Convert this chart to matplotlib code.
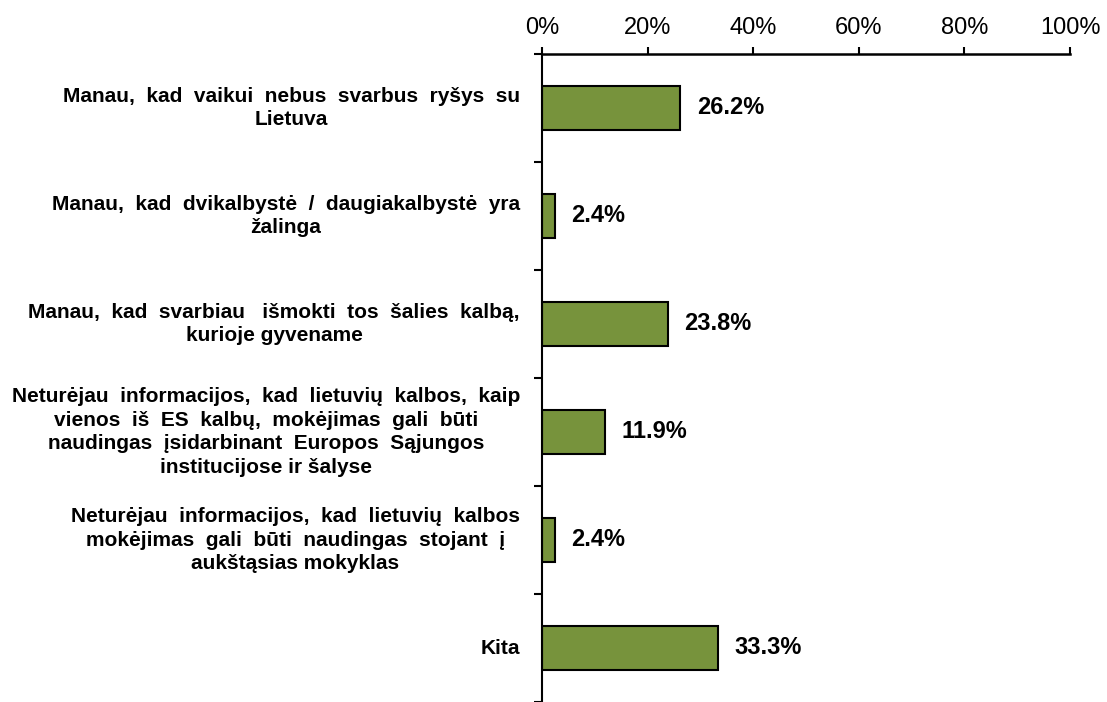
import numpy as np
import matplotlib.pyplot as plt
from matplotlib.transforms import offset_copy

plt.rcParams['font.family'] = ['Liberation Sans', 'DejaVu Sans']

categories = [
    'Manau,  kad  vaikui  nebus  svarbus  ryšys  su\nLietuva',
    'Manau,  kad  dvikalbystė  /  daugiakalbystė  yra\nžalinga',
    'Manau,  kad  svarbiau   išmokti  tos  šalies  kalbą,\nkurioje gyvename',
    'Neturėjau  informacijos,  kad  lietuvių  kalbos,  kaip\nvienos  iš  ES  kalbų,  mokėjimas  gali  būti\nnaudingas  įsidarbinant  Europos  Sąjungos\ninstitucijose ir šalyse',
    'Neturėjau  informacijos,  kad  lietuvių  kalbos\nmokėjimas  gali  būti  naudingas  stojant  į\naukštąsias mokyklas',
    'Kita',
]
values = [26.2, 2.4, 23.8, 11.9, 2.4, 33.3]
xticks = [0, 20, 40, 60, 80, 100]

W, H = 1107, 702
fig = plt.figure(figsize=(W / 100, H / 100), dpi=100)
ax = fig.add_axes([542 / W, 0.0, (1070 - 542) / W, 1 - 54 / H])

y = np.arange(len(values))
ax.barh(y, values, height=0.4, color='#77933C', edgecolor='black', linewidth=1.5)

for yi, v in zip(y, values):
    ax.text(v + 3.2, yi, f'{v:.1f}%', va='center', ha='left',
            fontsize=17, fontweight='bold')

ax.set_xlim(0, 100)
ax.set_ylim(len(values) - 0.5, -0.5)
ax.xaxis.tick_top()
ax.set_xticks(xticks)
ax.set_xticklabels([f'{t}%' for t in xticks], fontsize=17)
ax.tick_params(axis='x', direction='out', length=5, width=1.5, pad=6)

# category boundaries as ticks on the left spine
ax.set_yticks(np.arange(len(values) + 1) - 0.5)
ax.set_yticklabels([])
ax.tick_params(axis='y', direction='out', length=6, width=1.5)
lab_tr = offset_copy(ax.transData, fig=fig, x=-22, y=0, units='dots')
for yi, lab in zip(y, categories):
    ax.text(0, yi, lab, ha='right', va='center', multialignment='center',
            fontsize=15, fontweight='bold', transform=lab_tr,
            linespacing=1.3)

for s in ['right', 'bottom']:
    ax.spines[s].set_visible(False)
ax.spines['left'].set_linewidth(1.5)
ax.spines['top'].set_linewidth(1.8)

fig.savefig('out.png', dpi=100)
